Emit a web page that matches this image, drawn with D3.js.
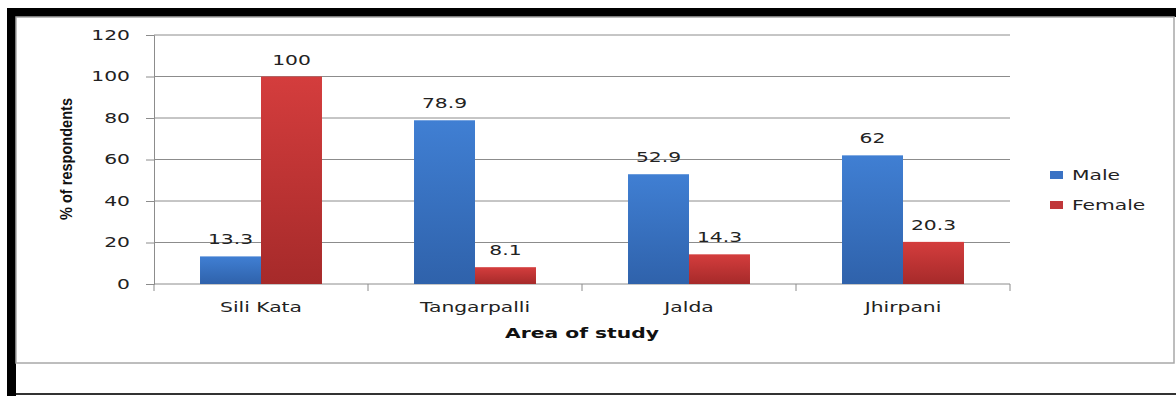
<!DOCTYPE html>
<html>
<head>
<meta charset="utf-8">
<script src="https://cdn.jsdelivr.net/npm/d3@7"></script>
<style>
  html, body { margin: 0; padding: 0; background: #fff; }
  svg { display: block; }
</style>
</head>
<body>
<svg id="chart" width="1176" height="396"></svg>
<script>
// Respondents by area of study and sex (%)
const areas = ["Sili Kata", "Tangarpalli", "Jalda", "Jhirpani"];
const seriesNames = ["Male", "Female"];
const maleValues = [13.3, 78.9, 52.9, 62];
const femaleValues = [100, 8.1, 14.3, 20.3];
const yTicks = [0, 20, 40, 60, 80, 100, 120];

const svg = d3.select("#chart");
const W = 1176, H = 396;
const FONT = "DejaVu Sans, Verdana, sans-serif";
const SX = 1.45; // horizontal widening of the chart lettering

// Widen text horizontally around its own anchor point
function widen(sel) {
  sel.each(function () {
    const t = d3.select(this);
    const x = +t.attr("x") || 0, y = +t.attr("y") || 0;
    t.attr("transform", `translate(${x},${y}) scale(${SX},1)`).attr("x", 0).attr("y", 0);
  });
}

// Frame: thick black top and left edges, thin gray inner box, dark bottom line
svg.append("rect").attr("x", 7).attr("y", 8).attr("width", W - 7).attr("height", 9).attr("fill", "#000");
svg.append("rect").attr("x", 7).attr("y", 8).attr("width", 9).attr("height", H - 8).attr("fill", "#000");
svg.append("rect").attr("x", 16).attr("y", 17).attr("width", 1158).attr("height", 346)
  .attr("fill", "none").attr("stroke", "#a8a8a8").attr("stroke-width", 1.5);
svg.append("rect").attr("x", 16).attr("y", 393).attr("width", W - 16).attr("height", 2).attr("fill", "#333");

const margin = { left: 154, right: 1010, top: 35, bottom: 284 };

const x0 = d3.scaleBand().domain(areas).range([margin.left, margin.right])
  .paddingInner(0.43).paddingOuter(0.215);
const x1 = d3.scaleBand().domain(seriesNames).range([0, x0.bandwidth()]);
const y = d3.scaleLinear().domain([0, 120]).range([margin.bottom, margin.top]);

// Gradients for the bar fills
const defs = svg.append("defs");
const grads = {
  Male: ["#407fd3", "#2f62ab"],
  Female: ["#d43d3d", "#a62a2a"]
};
Object.entries(grads).forEach(([k, c]) => {
  const g = defs.append("linearGradient").attr("id", "g" + k)
    .attr("x1", 0).attr("y1", 0).attr("x2", 0).attr("y2", 1);
  g.append("stop").attr("offset", "0%").attr("stop-color", c[0]);
  g.append("stop").attr("offset", "100%").attr("stop-color", c[1]);
});

// Gridlines
svg.append("g")
  .selectAll("line").data(yTicks.filter(t => t > 0)).join("line")
  .attr("x1", margin.left).attr("x2", margin.right)
  .attr("y1", d => y(d)).attr("y2", d => y(d))
  .attr("stroke", "#8c8c8c").attr("stroke-width", 1);

// Y axis
const yAxis = svg.append("g").attr("transform", `translate(${margin.left},0)`)
  .call(d3.axisLeft(y).tickValues(yTicks).tickSize(8).tickPadding(16));
yAxis.select(".domain").attr("stroke", "#8c8c8c");
yAxis.selectAll(".tick line").attr("stroke", "#8c8c8c");
yAxis.selectAll("text").attr("font-family", FONT)
  .attr("font-size", 14).attr("fill", "#222").call(widen);

// X axis with ticks between categories
const xAxis = svg.append("g").attr("transform", `translate(0,${margin.bottom})`);
xAxis.append("line").attr("x1", margin.left).attr("x2", margin.right)
  .attr("stroke", "#8c8c8c");
const boundaries = d3.range(areas.length + 1).map(i => margin.left + i * (margin.right - margin.left) / areas.length);
xAxis.selectAll("line.tk").data(boundaries).join("line").attr("class", "tk")
  .attr("x1", d => d).attr("x2", d => d).attr("y1", 0).attr("y2", 7)
  .attr("stroke", "#8c8c8c");
xAxis.selectAll("text").data(areas).join("text")
  .attr("x", d => x0(d) + x0.bandwidth() / 2).attr("y", 28)
  .attr("text-anchor", "middle")
  .attr("font-family", FONT).attr("font-size", 14)
  .attr("fill", "#222").text(d => d).call(widen);

// Bars and value labels
const rows = areas.map((a, i) => ({ area: a, values: [
  { key: "Male", v: maleValues[i] }, { key: "Female", v: femaleValues[i] }] }));

const groups = svg.append("g").selectAll("g").data(rows).join("g")
  .attr("transform", d => `translate(${x0(d.area)},0)`);
groups.selectAll("rect").data(d => d.values).join("rect")
  .attr("x", d => x1(d.key)).attr("width", x1.bandwidth())
  .attr("y", d => y(d.v)).attr("height", d => y(0) - y(d.v))
  .attr("fill", d => `url(#g${d.key})`);
groups.selectAll("text").data(d => d.values).join("text")
  .attr("x", d => x1(d.key) + x1.bandwidth() / 2)
  .attr("y", d => y(d.v) - 12)
  .attr("text-anchor", "middle")
  .attr("font-family", FONT).attr("font-size", 14)
  .attr("fill", "#222").text(d => d.v).call(widen);

// Axis titles
svg.append("text").attr("x", (margin.left + margin.right) / 2).attr("y", 338)
  .attr("text-anchor", "middle")
  .attr("font-family", FONT).attr("font-size", 14)
  .attr("font-weight", "bold").attr("fill", "#111").text("Area of study").call(widen);

svg.append("text")
  .attr("transform", "translate(72,159) rotate(-90)")
  .attr("text-anchor", "middle")
  .attr("font-family", "Liberation Sans Narrow, Liberation Sans, sans-serif")
  .attr("font-size", 16).attr("font-weight", "bold").attr("fill", "#111")
  .attr("textLength", 122).attr("lengthAdjust", "spacingAndGlyphs")
  .text("% of respondents");

// Legend
const legend = svg.append("g").selectAll("g").data(seriesNames).join("g")
  .attr("transform", (d, i) => `translate(1050,${175 + i * 30})`);
legend.append("rect").attr("x", 0).attr("y", -4).attr("width", 13).attr("height", 8)
  .attr("fill", d => d === "Male" ? "#3a72c4" : "#c0373a");
legend.append("text").attr("x", 22).attr("y", 5)
  .attr("font-family", FONT).attr("font-size", 14)
  .attr("fill", "#222").text(d => d).call(widen);
</script>
</body>
</html>
